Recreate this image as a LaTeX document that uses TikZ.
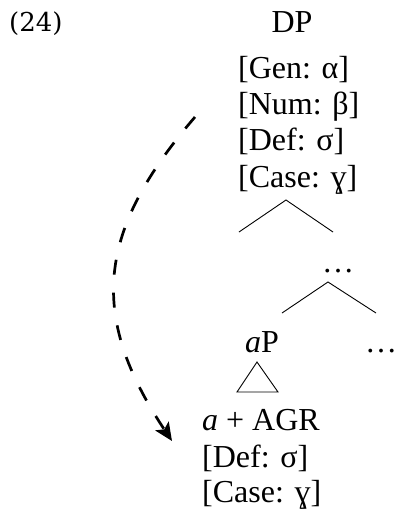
\documentclass[tikz,border=0pt]{standalone}
\usepackage{fontspec}
\setmainfont{Liberation Serif}
\newfontfamily\exfont{DejaVu Serif}
\usetikzlibrary{arrows.meta}
\begin{document}
\begin{tikzpicture}[x=1pt,y=-1pt,
  lab/.style={inner sep=0pt,font=\fontsize{32}{38}\selectfont},
  feat/.style={lab,anchor=base west},
  branch/.style={line width=0.9pt},
  movearrow/.style={line width=2.7pt,dash pattern=on 15pt off 18pt,-{Stealth[length=18pt,width=16pt,inset=4pt]}}]
\useasboundingbox (0,0) rectangle (397,517);
% example number
\node[inner sep=0pt,anchor=base west,font=\exfont\fontsize{26}{30}\selectfont] (num) at (9,31) {(24)};
% DP and its features
\node[lab,anchor=base] (dp) at (292,32) {DP};
\node[feat] (gen) at (238,78) {[Gen: α]};
\node[feat] (numf) at (238,114) {[Num: β]};
\node[feat] (def) at (238,150) {[Def: σ]};
\node[feat] (case) at (238,187) {[Case: ɣ]};
% first branching
\coordinate (b1) at (286,200);
\coordinate (b1l) at (239,232);
\coordinate (b1r) at (333,232);
\draw[branch] (b1l) -- (b1) -- (b1r);
% dots node
\node[lab,anchor=base] (dots1) at (338,272) {…};
\coordinate (b2) at (328,282);
\coordinate (b2l) at (282,313);
\coordinate (b2r) at (376,313);
\draw[branch] (b2l) -- (b2) -- (b2r);
% aP and dots
\node[feat] (ap) at (245,352) {\textit{a}P};
\node[lab,anchor=base] (dots2) at (381,352) {…};
% triangle
\coordinate (t1) at (257,362);
\coordinate (t1l) at (237,392);
\coordinate (t1r) at (278,392);
\draw[branch] (t1) -- (t1l) -- (t1r) -- cycle;
% lower features
\node[feat] (agr) at (202,430) {\textit{a} + AGR};
\node[feat] (def2) at (202,467) {[Def: σ]};
\node[feat] (case2) at (202,502) {[Case: ɣ]};
% movement arrow
\coordinate (mstart) at (195,117);
\coordinate (mend) at (172,441);
\draw[movearrow] (mstart) .. controls (97,231) and (88,315) .. (mend);
\end{tikzpicture}
\end{document}
